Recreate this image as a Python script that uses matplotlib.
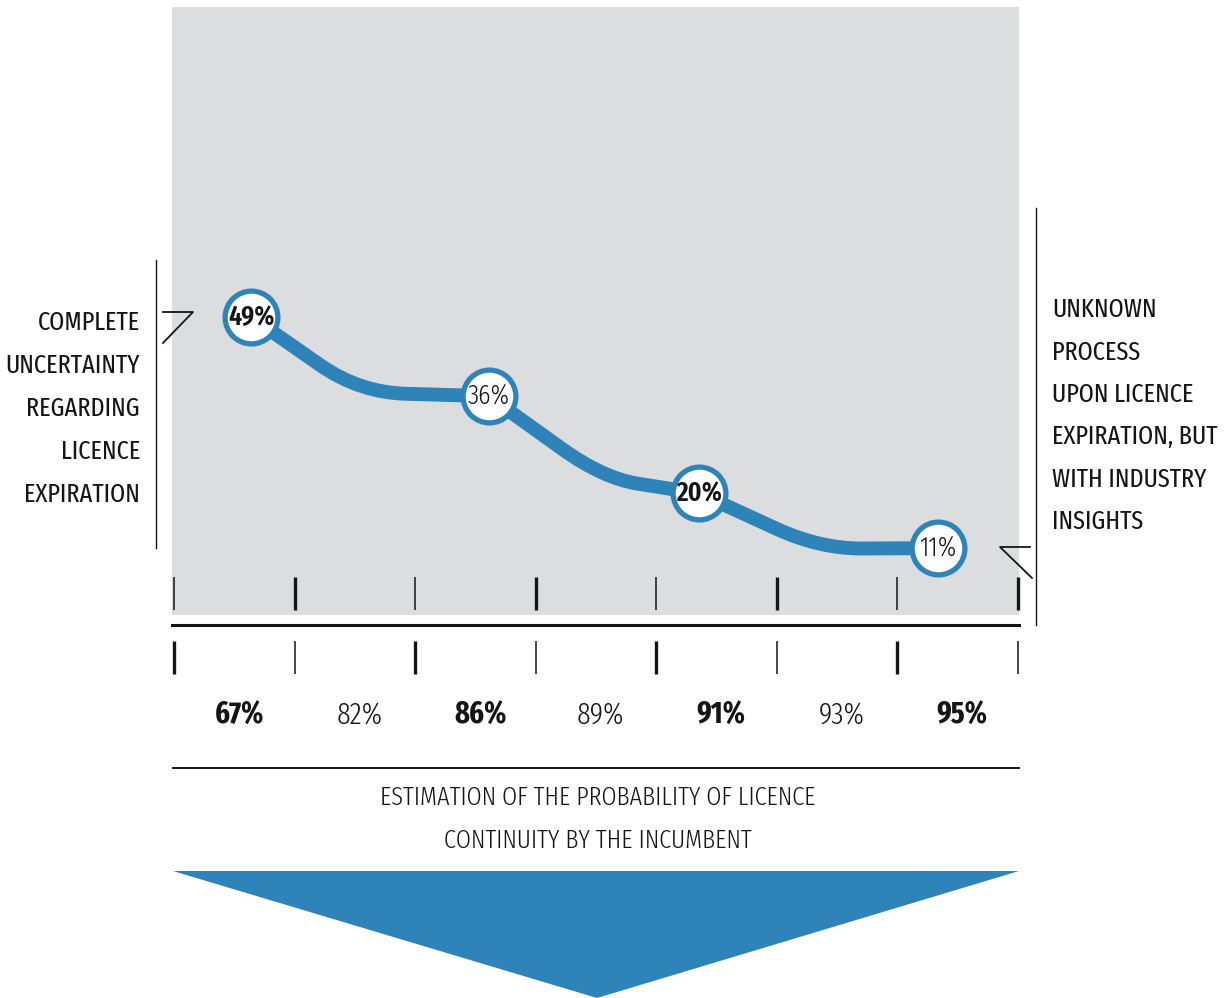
import matplotlib
matplotlib.use("Agg")
import matplotlib.pyplot as plt
from matplotlib.path import Path
from matplotlib.patches import PathPatch, Polygon
from matplotlib import font_manager
import numpy as np

# pick a condensed gothic face that is installed (needs real weights)
names = set(f.name for f in font_manager.fontManager.ttflist)
FONT = 'DejaVu Sans'
for cand in ['Fira Sans Extra Condensed', 'Barlow Condensed', 'Oswald']:
    if cand in names:
        FONT = cand
        break
plt.rcParams['font.family'] = [FONT, 'DejaVu Sans']

BLUE = '#2e83b8'
GRAY = '#dcdddf'
INK = '#151515'

# data
point_x = [0.64, 2.61, 4.36, 6.34]
point_y = [49, 36, 20, 11]
point_labels = ['49%', '36%', '20%', '11%']
point_bold = [True, False, True, False]

# bends of the line between the points
knee_x = [1.54, 3.56, 5.36]
knee_y = [36.6, 22.5, 10.9]

tick_pos = [0, 1, 2, 3, 4, 5, 6, 7]
axis_labels = ['67%', '82%', '86%', '89%', '91%', '93%', '95%']
axis_bold = [True, False, True, False, True, False, True]

left_lines = ['COMPLETE', 'UNCERTAINTY', 'REGARDING', 'LICENCE', 'EXPIRATION']
right_lines = ['UNKNOWN', 'PROCESS', 'UPON LICENCE', 'EXPIRATION, BUT',
               'WITH INDUSTRY', 'INSIGHTS']
title_lines = ['ESTIMATION OF THE PROBABILITY OF LICENCE',
               'CONTINUITY BY THE INCUMBENT']

W, H = 1226, 998
fig = plt.figure(figsize=(W / 100, H / 100), dpi=100)

# main plot area (grey box), pixels 172..1019 x 7..615
ax = fig.add_axes([172 / W, 1 - 615 / H, (1019 - 172) / W, (615 - 7) / H])
ax.set_facecolor(GRAY)
ax.set_xlim(-0.0166, 7.012)
ax.set_ylim(0, 100)
for s in ax.spines.values():
    s.set_visible(False)
ax.set_xticks([])
ax.set_yticks([])

# smooth line: straight runs with rounded bends
f = 0.36
verts = [(point_x[0], point_y[0])]
codes = [Path.MOVETO]
for i in range(len(knee_x)):
    a = np.array([point_x[i], point_y[i]])
    k = np.array([knee_x[i], knee_y[i]])
    b = np.array([point_x[i + 1], point_y[i + 1]])
    verts += [tuple(k + f * (a - k)), tuple(k), tuple(k + f * (b - k)), tuple(b)]
    codes += [Path.LINETO, Path.CURVE3, Path.CURVE3, Path.LINETO]
ax.add_patch(PathPatch(Path(verts, codes), fill=False, edgecolor=BLUE, lw=10,
                       capstyle='round', joinstyle='round', zorder=2))

ax.plot(point_x, point_y, 'o', ms=38, mfc='white', mec=BLUE, mew=3.8, zorder=3)
for x, y, t, b in zip(point_x, point_y, point_labels, point_bold):
    ax.text(x, y, t, ha='center', va='center', fontsize=20, color=INK,
            fontweight=600 if b else 300, zorder=4)

# ticks inside the box (alternating thin / thick) and below the base line
for t in tick_pos:
    thick = t % 2 == 1
    ax.vlines(t, 0.82, 6.25, color=INK, lw=2.4 if thick else 1.1, clip_on=False)
    ax.vlines(t, -4.3, -9.7, color=INK, lw=1.1 if thick else 2.4, clip_on=False)

for i, (t, b) in enumerate(zip(axis_labels, axis_bold)):
    ax.text(tick_pos[i] + 0.54, -16.5, t, ha='center', va='center', fontsize=22,
            color=INK, fontweight=700 if b else 300, clip_on=False)

# overlay in pixel coords for the decorations
ov = fig.add_axes([0, 0, 1, 1], zorder=5)
ov.set_xlim(0, W)
ov.set_ylim(H, 0)
ov.axis('off')
ov.patch.set_alpha(0)

ov.plot([172, 1019], [625, 625], color=INK, lw=2.2)
ov.plot([173, 1019], [768, 768], color=INK, lw=1.4)

# side brackets
ov.plot([156, 156], [260, 548], color=INK, lw=1.0)
ov.plot([163, 193, 163], [312, 312, 343], color=INK, lw=1.3)
ov.plot([1036, 1036], [208, 625], color=INK, lw=1.0)
ov.plot([1030, 1000, 1032], [547, 547, 578], color=INK, lw=1.3)

for i, t in enumerate(left_lines):
    ov.text(140, 323 + i * 43, t, ha='right', va='center', fontsize=19,
            color=INK, fontweight=400)
for i, t in enumerate(right_lines):
    ov.text(1052, 310 + i * 42.4, t, ha='left', va='center', fontsize=19,
            color=INK, fontweight=400)

for i, t in enumerate(title_lines):
    ov.text(598, 798 + i * 43, t, ha='center', va='center', fontsize=19,
            color=INK, fontweight=300)

ov.add_patch(Polygon([(173, 871), (1019, 871), (597, 998)], closed=True,
                     facecolor=BLUE, edgecolor='none'))

fig.savefig('out.png', dpi=100)
